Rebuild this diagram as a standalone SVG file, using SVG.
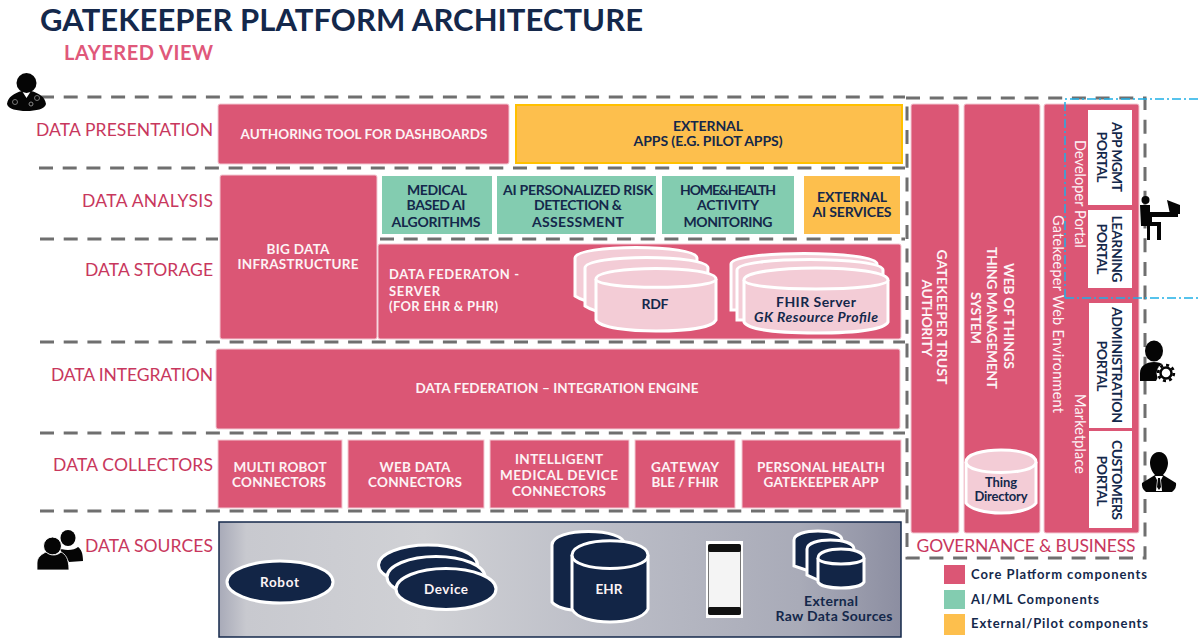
<svg xmlns="http://www.w3.org/2000/svg" width="1198" height="639" viewBox="0 0 1198 639">
<style>
text{font-family:"Lato","Open Sans","Liberation Sans",sans-serif}
.core{fill:#db5675;stroke:#f3c9d4;stroke-width:1}
.ai{fill:#83ccb0}
.ext{fill:#fdbf4d}
.dash{fill:none;stroke:#6f6f6f;stroke-width:3;stroke-dasharray:14 9.7}
.lay{fill:#c8375d;font-size:17.5px;font-weight:400;text-anchor:end}
.w{fill:#fdf3f5;font-size:13.5px;font-weight:700;text-anchor:middle}
.wl{fill:#fdf3f5;font-size:13px;font-weight:700}
.n{fill:#14284b;font-size:14px;font-weight:700;text-anchor:middle}
.v{fill:#fdf3f5;font-size:14.5px;font-weight:400;text-anchor:middle}
.vt{fill:#fdf3f5;font-size:14px;font-weight:700;text-anchor:middle}
.vb{fill:#14284b;font-size:14px;font-weight:700;text-anchor:middle}
.cp{fill:#f3ccd6;stroke:#fff;stroke-width:3}
.cd{fill:#122546;stroke:#fff;stroke-width:3}
.wh{fill:#fff}
.leg{fill:#14284b;font-size:13px;font-weight:700}
.ic{fill:#050505}
</style>
<defs>
<linearGradient id="gs" x1="0" y1="0" x2="1" y2="0">
<stop offset="0" stop-color="#a8aab8"/><stop offset=".04" stop-color="#c8c9cf"/><stop offset=".3" stop-color="#d0d1d5"/><stop offset=".6" stop-color="#b9bbc5"/><stop offset=".85" stop-color="#a9abb8"/><stop offset="1" stop-color="#8c8ea1"/>
</linearGradient>
</defs>

<g id="title">
<text x="40" y="31" font-size="31" font-weight="700" fill="#14284b" textLength="603" lengthAdjust="spacing">GATEKEEPER PLATFORM ARCHITECTURE</text>
<text x="64" y="60" font-size="20" font-weight="700" fill="#e0587a" textLength="149" lengthAdjust="spacing">LAYERED VIEW</text>
</g>

<g id="layer-labels">
<text class="lay" x="213" y="136" textLength="177">DATA PRESENTATION</text>
<text class="lay" x="213" y="207" textLength="131">DATA ANALYSIS</text>
<text class="lay" x="213" y="276" textLength="128">DATA STORAGE</text>
<text class="lay" x="213" y="381" textLength="162">DATA INTEGRATION</text>
<text class="lay" x="213" y="471" textLength="160">DATA COLLECTORS</text>
<text class="lay" x="213" y="552" textLength="128">DATA SOURCES</text>
</g>

<g id="authoring"><rect class="core" x="218" y="104" width="291" height="60" rx="2"/><text class="w" x="364" y="139" textLength="247">AUTHORING TOOL FOR DASHBOARDS</text></g>
<g id="external-apps"><rect class="ext" x="516" y="105" width="386" height="58" stroke="#ffc000" stroke-width="2"/><text class="n" x="708" y="131" textLength="70">EXTERNAL</text><text class="n" x="708" y="146" textLength="149">APPS (E.G. PILOT APPS)</text></g>
<g id="big-data"><rect class="core" x="220" y="175" width="157" height="164" rx="2"/><text class="w" x="298" y="254" textLength="63">BIG DATA</text><text class="w" x="298" y="269" textLength="121">INFRASTRUCTURE</text></g>
<g id="medical-ai"><rect class="ai" x="382" y="176" width="110" height="58"/><text class="n" x="437" y="195" textLength="60">MEDICAL</text><text class="n" x="436" y="210" textLength="59">BASED AI</text><text class="n" x="436" y="227" textLength="89">ALGORITHMS</text></g>
<g id="ai-risk"><rect class="ai" x="497" y="176" width="159" height="58"/><text class="n" x="578" y="195" textLength="150">AI PERSONALIZED RISK</text><text class="n" x="578" y="210" textLength="88">DETECTION &amp;</text><text class="n" x="578" y="227" textLength="92">ASSESSMENT</text></g>
<g id="home-health"><rect class="ai" x="662" y="176" width="132" height="58"/><text class="n" x="728" y="195" textLength="96">HOME&amp;HEALTH</text><text class="n" x="728" y="210" textLength="62">ACTIVITY</text><text class="n" x="728" y="227" textLength="89">MONITORING</text></g>
<g id="external-ai"><rect class="ext" x="804" y="176" width="96" height="58"/><text class="n" x="852" y="202" textLength="70">EXTERNAL</text><text class="n" x="852" y="217" textLength="79">AI SERVICES</text></g>

<g id="data-federation-server">
<rect class="core" x="378" y="244" width="523" height="95" rx="2"/>
<text class="wl" x="389" y="279" textLength="130">DATA FEDERATON -</text><text class="wl" x="389" y="296" textLength="51">SERVER</text><text class="wl" x="389" y="311" textLength="109">(FOR EHR &amp; PHR)</text>
<g id="rdf">
<path class="cp" d="M575 258V296Q590 306 636 306Q697 306 697 258C697 244 575 244 575 258Z"/>
<path class="cp" d="M585 268V306Q600 316 646 316Q708 316 708 268C708 254 585 254 585 268Z"/>
<path class="cp" d="M596 279V320C600 328 630 331 656 331C685 331 712 328 716 320V279C716 265 596 265 596 279Z"/>
<path class="cp" d="M596 279C596 290 716 290 716 279" fill="none"/>
<text class="n" x="655" y="309" textLength="27">RDF</text>
</g>
<g id="fhir">
<path class="cp" d="M731 264V310H877V264C877 250 731 250 731 264Z"/>
<path class="cp" d="M737 270V320H883V270C883 256 737 256 737 270Z"/>
<path class="cp" d="M744 280V322C748 330 780 333 816 333C852 333 884 330 888 322V280C888 264 744 264 744 280Z"/>
<path class="cp" d="M744 280C744 292 888 292 888 280" fill="none"/>
<text class="n" x="816" y="307" textLength="80">FHIR  Server</text>
<text class="n" x="816" y="322" style="font-style:italic" textLength="124">GK Resource Profile</text>
</g>
</g>

<g id="integration-engine"><rect class="core" x="216" y="349" width="684" height="80" rx="2"/><text class="w" x="557" y="393" textLength="283">DATA FEDERATION – INTEGRATION ENGINE</text></g>

<g id="multi-robot"><rect class="core" x="218" y="440" width="124" height="68" stroke="none"/><text class="w" x="280" y="472" textLength="93">MULTI ROBOT</text><text class="w" x="279" y="487" textLength="94">CONNECTORS</text></g>
<g id="web-data"><rect class="core" x="348" y="440" width="136" height="68" stroke="none"/><text class="w" x="415" y="472" textLength="71">WEB DATA</text><text class="w" x="415" y="487" textLength="94">CONNECTORS</text></g>
<g id="medical-device"><rect class="core" x="490" y="440" width="139" height="68" stroke="none"/><text class="w" x="559" y="464" textLength="88">INTELLIGENT</text><text class="w" x="559" y="480" textLength="118">MEDICAL DEVICE</text><text class="w" x="559" y="496" textLength="94">CONNECTORS</text></g>
<g id="gateway"><rect class="core" x="635" y="440" width="100" height="68" stroke="none"/><text class="w" x="685" y="472" textLength="68">GATEWAY</text><text class="w" x="685" y="487" textLength="67">BLE / FHIR</text></g>
<g id="personal-health"><rect class="core" x="742" y="440" width="159" height="68" stroke="none"/><text class="w" x="821" y="472" textLength="128">PERSONAL HEALTH</text><text class="w" x="821" y="487" textLength="115">GATEKEEPER APP</text></g>

<g id="data-sources">
<rect x="219" y="522" width="682" height="115" fill="url(#gs)" stroke="#14284b" stroke-width="1.5"/>
<g id="robot"><ellipse class="cd" cx="280" cy="582" rx="53" ry="21"/><text class="w" x="279.500" y="587" textLength="39">Robot</text></g>
<g id="device"><ellipse class="cd" cx="428" cy="565" rx="49.500" ry="20"/><ellipse class="cd" cx="436" cy="577" rx="49" ry="20.500"/><ellipse class="cd" cx="446" cy="589" rx="50" ry="20.500"/><text class="w" x="446" y="594" textLength="44">Device</text></g>
<g id="ehr">
<path class="cd" d="M552 545V602C556 607 566 610 580 611H625V545C625 527 552 527 552 545Z"/>
<path class="cd" d="M572 555V609C576 618 594 622 610 622C626 622 644 618 648 609V555C648 536 572 536 572 555Z"/>
<path class="cd" d="M572 555C572 573 648 573 648 555" fill="none"/>
<text class="w" x="609" y="594" textLength="27">EHR</text></g>
<g id="phone"><rect x="706" y="541" width="37" height="77" fill="#fff"/><rect x="708" y="544" width="33" height="71" rx="3" fill="#777"/><rect x="708" y="544" width="33" height="8" rx="2" fill="#111"/><rect x="708" y="607" width="33" height="8" rx="2" fill="#111"/><rect x="709" y="552" width="31" height="55" fill="#f4f4f4"/></g>
<g id="external-sources">
<path class="cd" d="M794 540V566L806 570H842V540C842 528 794 528 794 540Z"/>
<path class="cd" d="M807 549V575L818 580H854V549C854 537 807 537 807 549Z"/>
<path class="cd" d="M818 558V582C822 590 860 590 864 582V558C864 546 818 546 818 558Z"/>
<path class="cd" d="M818 558C818 566 864 566 864 558" fill="none"/>
<text class="n" x="831" y="606" textLength="54">External</text>
<text class="n" x="834" y="621" textLength="117">Raw Data Sources</text></g>
</g>

<g id="trust-authority"><rect class="core" x="911" y="104" width="48" height="429" rx="2"/>
<text class="vt" transform="translate(937,317) rotate(90)" textLength="135">GATEKEEPER  TRUST</text>
<text class="vt" transform="translate(922,318) rotate(90)" textLength="77">AUTHORITY</text></g>
<g id="wot"><rect class="core" x="964" y="104" width="76" height="429" rx="2"/>
<text class="vt" transform="translate(1004,316) rotate(90)" textLength="106">WEB OF THINGS</text>
<text class="vt" transform="translate(987,318) rotate(90)" textLength="142">THING MANAGEMENT</text>
<text class="vt" transform="translate(971,318) rotate(90)" textLength="52">SYSTEM</text>
<g id="thing-directory"><path class="cp" d="M966 462V503C970 509 985 513 1001 513C1017 513 1032 509 1036 503V462C1036 446 966 446 966 462Z"/><path class="cp" d="M966 462C966 476 1036 476 1036 462" fill="none"/>
<text class="n" x="1001" y="487" style="font-size:13px" textLength="32">Thing</text><text class="n" x="1001" y="501" style="font-size:13px" textLength="53">Directory</text></g></g>
<g id="web-env"><rect class="core" x="1044" y="104" width="95" height="429" rx="2"/>
<text class="v" transform="translate(1053,314) rotate(90)" textLength="198">Gatekeeper Web Environment</text>
<text class="v" transform="translate(1075,194) rotate(90)" textLength="108">Developer Portal</text>
<text class="v" transform="translate(1075,434) rotate(90)" textLength="80">Marketplace</text>
<g id="app-mgmt"><rect class="wh" x="1088" y="110" width="44" height="95"/><text class="vb" transform="translate(1112,157) rotate(90)" textLength="70">APP MGMT</text><text class="vb" transform="translate(1097,157) rotate(90)" textLength="51">PORTAL</text></g>
<g id="learning"><rect class="wh" x="1088" y="210" width="44" height="78"/><text class="vb" transform="translate(1112,249) rotate(90)" textLength="67">LEARNING</text><text class="vb" transform="translate(1097,249) rotate(90)" textLength="51">PORTAL</text></g>
<g id="administration"><rect class="wh" x="1089" y="303" width="43" height="125"/><text class="vb" transform="translate(1112,365) rotate(90)" textLength="116">ADMINISTRATION</text><text class="vb" transform="translate(1097,366) rotate(90)" textLength="51">PORTAL</text></g>
<g id="customers"><rect class="wh" x="1089" y="431" width="43" height="97"/><text class="vb" transform="translate(1112,480) rotate(90)" textLength="80">CUSTOMERS</text><text class="vb" transform="translate(1097,481) rotate(90)" textLength="51">PORTAL</text></g>
</g>
<text x="1026" y="552" fill="#c8375d" font-size="17.500" font-weight="400" text-anchor="middle" textLength="219">GOVERNANCE &amp; BUSINESS</text>

<g id="legend">
<rect x="944" y="565" width="21" height="19" fill="#db5675"/><text class="leg" x="971" y="579" textLength="176">Core Platform components</text>
<rect x="944" y="590" width="21" height="19" fill="#83ccb0"/><text class="leg" x="971" y="604" textLength="128">AI/ML Components</text>
<rect x="944" y="614" width="21" height="21" fill="#fdbf4d"/><text class="leg" x="971" y="628" textLength="177">External/Pilot components</text>
</g>

<g id="connectors">
<path class="dash" d="M40 97H905"/>
<path class="dash" d="M39 168H905"/>
<path class="dash" d="M40 239H218"/>
<path class="dash" d="M380 239H905"/>
<path class="dash" d="M40 342H905"/>
<path class="dash" d="M40 433H905"/>
<path class="dash" d="M40 511H905"/>
<path class="dash" d="M906 98H1145V558H907V100"/>
<path d="M1065 298V99H1198M1065 298H1198" fill="none" stroke="#1fb0e6" stroke-width="1.500" stroke-dasharray="9 3 2 3"/>
</g>

<g id="icon-doctor" class="ic"><circle cx="26.500" cy="83" r="10"/><path d="M7 104C8 97 14 93 22 91L26.500 98L31 91C39 93 45 97 46 104C45 109 36 111 26.500 111C17 111 8 109 7 104Z"/><circle cx="15" cy="102" r="2.500" fill="none" stroke="#777"/><circle cx="37" cy="98" r="2.500" fill="none" stroke="#777"/><circle cx="31" cy="104" r="2" fill="none" stroke="#888"/></g>
<g id="icon-developer" class="ic"><circle cx="1145.500" cy="200" r="4"/><path d="M1140 205H1150V212H1178V217H1152V222H1161V240H1157V226H1150V240H1147V226H1141Z"/><path d="M1167 200L1180 205V214H1170Z"/></g>
<g id="icon-admin" class="ic"><ellipse cx="1154" cy="351" rx="9" ry="10.500"/><path d="M1140 381V373C1140 366 1146 362 1154 362C1158 362 1161 363 1164 365L1156 381Z"/><circle cx="1166" cy="373" r="9.500" fill="#fff"/><circle cx="1166" cy="373" r="5.500" fill="none" stroke="#050505" stroke-width="2.500"/><circle cx="1166" cy="373" r="7.800" fill="none" stroke="#050505" stroke-width="2.800" stroke-dasharray="3 3.100"/></g>
<g id="icon-customer" class="ic"><path d="M1159 452C1166 452 1168 459 1168 463C1168 468 1165 473 1163 475L1176 483Q1177 488 1172 492H1146Q1141 488 1142 483L1155 475C1153 473 1150 468 1150 463C1150 459 1152 452 1159 452Z"/><path d="M1155 476H1163L1161 480L1162 491H1156L1157 480Z" fill="#fff"/><path d="M1158 478H1160L1161 487L1159 490L1157 487Z"/></g>
<g id="icon-users" class="ic"><ellipse cx="68" cy="538" rx="7.500" ry="8"/><path d="M58 547C62 551 74 551 78 547C81 549 83 553 83 561L69 562L60 550Z"/><circle cx="52.500" cy="546" r="9" stroke="#fff"/><path d="M37 570V563C37 557 42 554 46 552C50 556 57 556 61 552C65 554 69 558 69 570Z" stroke="#fff" stroke-width=".800"/></g>
</svg>
